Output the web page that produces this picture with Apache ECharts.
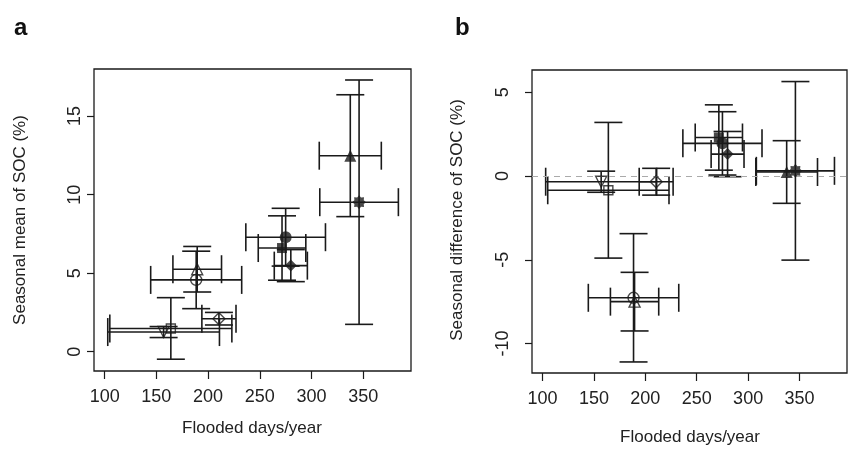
<!DOCTYPE html>
<html>
<head>
<meta charset="utf-8">
<script src="https://cdn.jsdelivr.net/npm/echarts@6/dist/echarts.min.js"></script>
<style>
html,body{margin:0;padding:0;background:#fff;}
#c{width:848px;height:450px;}
</style>
</head>
<body>
<div id="c"></div>
<script>
// ---- data ----
const floodedDays    = [157, 164, 188.5, 189.5, 210.5, 275, 271.5, 280, 337.5, 346];
const floodedDaysErr = [54, 59, 44, 23.5, 16.5, 38.5, 23, 16, 30, 38];
const socMean        = [1.25, 1.48, 4.57, 5.25, 2.1, 7.29, 6.6, 5.48, 12.48, 9.52];
const socMeanErr     = [0.35, 1.96, 1.83, 1.45, 0.4, 1.84, 2.05, 1.02, 3.88, 7.78];
const socDiff        = [-0.34, -0.85, -7.27, -7.5, -0.34, 1.95, 2.3, 1.31, 0.24, 0.31];
const socDiffErr     = [0.63, 4.05, 3.83, 1.75, 0.8, 1.89, 1.95, 1.35, 1.87, 5.33];
const xTicks    = [100, 150, 200, 250, 300, 350];
const meanTicks = [0, 5, 10, 15];
const diffTicks = [-10, -5, 0, 5];

// ---- marker styles ----
function starPath(n, rIn) {
  let d = '';
  for (let k = 0; k < 2 * n; k++) {
    const a = Math.PI * k / n - Math.PI / 2;
    const r = (k % 2 === 0) ? 1 : rIn;
    d += (k === 0 ? 'M' : 'L') + (r * Math.cos(a)).toFixed(3) + ',' + (r * Math.sin(a)).toFixed(3);
  }
  return 'path://' + d + 'Z';
}
const INK = '#1a1a1a';
const markerStyles = [
  {symbol: 'triangle', size: 11, rotate: 180, filled: false},
  {symbol: 'rect', size: 9, rotate: 0, filled: false},
  {symbol: 'circle', size: 11, rotate: 0, filled: false},
  {symbol: 'triangle', size: 11, rotate: 0, filled: false},
  {symbol: 'diamond', size: 12, rotate: 0, filled: false},
  {symbol: 'circle', size: 12, rotate: 0, filled: true},
  {symbol: 'rect', size: 10, rotate: 0, filled: true},
  {symbol: 'diamond', size: 12, rotate: 0, filled: true},
  {symbol: 'triangle', size: 12, rotate: 0, filled: true},
  {symbol: starPath(8, 0.72), size: 14, rotate: 0, filled: true}
];

function pointSeries(ax, ys) {
  return {
    type: 'scatter', xAxisIndex: ax, yAxisIndex: ax, z: 5, silent: true,
    data: floodedDays.map((x, i) => {
      const m = markerStyles[i];
      return {
        value: [x, ys[i]],
        symbol: m.symbol, symbolSize: m.size, symbolRotate: m.rotate,
        itemStyle: m.filled ? {color: INK, borderWidth: 0}
                            : {color: 'rgba(0,0,0,0)', borderColor: INK, borderWidth: 1.4}
      };
    })
  };
}

function errorSeries(ax, ys, yerr) {
  return {
    type: 'custom', xAxisIndex: ax, yAxisIndex: ax, z: 3, silent: true, clip: false,
    encode: {x: 0, y: 1},
    data: floodedDays.map((x, i) => [x, ys[i], floodedDaysErr[i], yerr[i]]),
    renderItem: function (params, api) {
      const x = api.value(0), y = api.value(1), ex = api.value(2), ey = api.value(3);
      const l = api.coord([x - ex, y]), r = api.coord([x + ex, y]);
      const t = api.coord([x, y + ey]), b = api.coord([x, y - ey]);
      const h = 14;
      const st = {stroke: INK, lineWidth: 1.6, fill: null};
      const ln = (x1, y1, x2, y2) => ({type: 'line', shape: {x1, y1, x2, y2}, style: st});
      return {type: 'group', children: [
        ln(l[0], l[1], r[0], r[1]),
        ln(l[0], l[1] - h, l[0], l[1] + h),
        ln(r[0], r[1] - h, r[0], r[1] + h),
        ln(t[0], t[1], b[0], b[1]),
        ln(t[0] - h, t[1], t[0] + h, t[1]),
        ln(b[0] - h, b[1], b[0] + h, b[1])
      ]};
    }
  };
}

const FONT = 'Liberation Sans, Arial, sans-serif';
function xAxisCfg(gi) {
  return {
    type: 'value', gridIndex: gi, min: 89.7, max: 396.2, position: 'bottom',
    axisLine: {show: false, onZero: false},
    axisTick: {show: true, customValues: xTicks, length: 8, lineStyle: {color: INK, width: 1.2}},
    axisLabel: {customValues: xTicks, fontSize: 18, color: '#222', margin: 17, fontFamily: FONT},
    splitLine: {show: false}
  };
}
function yAxisCfg(gi, min, max, ticks, margin) {
  return {
    type: 'value', gridIndex: gi, min: min, max: max, position: 'left',
    axisLine: {show: false, onZero: false},
    axisTick: {show: true, customValues: ticks, length: 7, lineStyle: {color: INK, width: 1.2}},
    axisLabel: {customValues: ticks, fontSize: 18, color: '#222', margin: margin, rotate: 90, fontFamily: FONT},
    splitLine: {show: false}
  };
}

const chart = echarts.init(document.getElementById('c'), null, {renderer: 'canvas'});
const diffPoints = pointSeries(1, socDiff);
diffPoints.markLine = {
  silent: true, symbol: 'none', label: {show: false},
  lineStyle: {color: '#aaaaaa', type: [6, 5], width: 1.2},
  data: [{yAxis: 0}]
};
chart.setOption({
  animation: false,
  backgroundColor: '#ffffff',
  textStyle: {fontFamily: FONT},
  grid: [
    {left: 94, top: 69, width: 317, height: 302, show: true, borderColor: INK, borderWidth: 1.3, containLabel: false},
    {left: 532, top: 70, width: 315, height: 303, show: true, borderColor: INK, borderWidth: 1.3, containLabel: false}
  ],
  xAxis: [xAxisCfg(0), xAxisCfg(1)],
  yAxis: [yAxisCfg(0, -1.23, 18.0, meanTicks, 10), yAxisCfg(1, -11.76, 6.33, diffTicks, 20)],
  series: [
    errorSeries(0, socMean, socMeanErr),
    pointSeries(0, socMean),
    errorSeries(1, socDiff, socDiffErr),
    diffPoints
  ],
  graphic: [
    {type: 'text', left: 14, top: 16, style: {text: 'a', font: 'bold 24px ' + FONT, fill: '#111'}},
    {type: 'text', left: 455, top: 16, style: {text: 'b', font: 'bold 24px ' + FONT, fill: '#111'}},
    {type: 'text', x: 252, y: 428, style: {text: 'Flooded days/year', font: '17px ' + FONT, fill: '#222', align: 'center', verticalAlign: 'middle'}},
    {type: 'text', x: 690, y: 437, style: {text: 'Flooded days/year', font: '17px ' + FONT, fill: '#222', align: 'center', verticalAlign: 'middle'}},
    {type: 'text', x: 20, y: 220, rotation: Math.PI / 2, style: {text: 'Seasonal mean of SOC (%)', font: '17px ' + FONT, fill: '#222', align: 'center', verticalAlign: 'middle'}},
    {type: 'text', x: 457, y: 220, rotation: Math.PI / 2, style: {text: 'Seasonal difference of SOC (%)', font: '17px ' + FONT, fill: '#222', align: 'center', verticalAlign: 'middle'}}
  ]
});
</script>
</body>
</html>
